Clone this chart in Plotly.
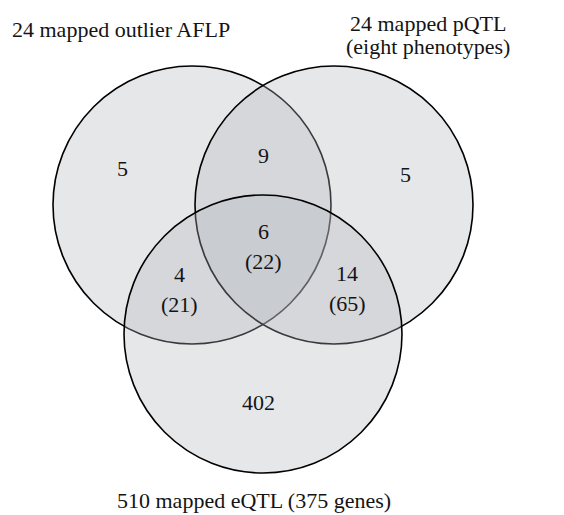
import plotly.graph_objects as go

# Set names and counts
set_labels = ["24 mapped outlier AFLP", "24 mapped pQTL", "(eight phenotypes)", "510 mapped eQTL (375 genes)"]
region_names = ["AFLP only", "pQTL only", "eQTL only", "AFLP&pQTL", "AFLP&eQTL", "pQTL&eQTL", "all three"]
region_counts = [5, 5, 402, 9, 4, 14, 6]
region_genes = [None, None, None, None, 21, 65, 22]

# Layout geometry (page pixel coordinates)
circle_centers = [(192, 205), (334, 205), (263, 334)]
circle_r = 139
count_pos = [(122, 168), (405, 174), (258, 402), (263, 155), (179, 274), (347, 273), (263, 231)]
gene_dy = 30
label_pos = [(121, 29), (428, 23), (428, 46), (254, 500)]

W, H = 564, 515
OFF = 8  # browser body margin
fig = go.Figure()
fig.add_trace(go.Scatter(x=[OFF, W], y=[OFF, H], mode="markers", marker=dict(opacity=0), hoverinfo="skip", showlegend=False))

for cx, cy in circle_centers:
    fig.add_shape(type="circle", xref="x", yref="y",
                  x0=cx - circle_r, x1=cx + circle_r, y0=cy - circle_r, y1=cy + circle_r,
                  fillcolor="rgba(178,181,187,0.32)", line=dict(color="black", width=1.6), layer="below")

font = dict(family="Liberation Serif, Times New Roman, serif", size=22, color="#141414")
for (x, y), c, g in zip(count_pos, region_counts, region_genes):
    fig.add_annotation(x=x, y=y, text=str(c), showarrow=False, font=font, xanchor="center", yanchor="middle")
    if g is not None:
        fig.add_annotation(x=x, y=y + gene_dy, text=f"({g})", showarrow=False, font=font, xanchor="center", yanchor="middle")

for (x, y), t in zip(label_pos, set_labels):
    fig.add_annotation(x=x, y=y, text=t, showarrow=False, font=font, xanchor="center", yanchor="middle")

fig.update_layout(width=W - OFF, height=H - OFF, margin=dict(l=0, r=0, t=0, b=0),
                  paper_bgcolor="white", plot_bgcolor="white", showlegend=False)
fig.update_xaxes(range=[OFF, W], visible=False, fixedrange=True)
fig.update_yaxes(range=[H, OFF], visible=False, fixedrange=True)
fig.write_html("out.html")
